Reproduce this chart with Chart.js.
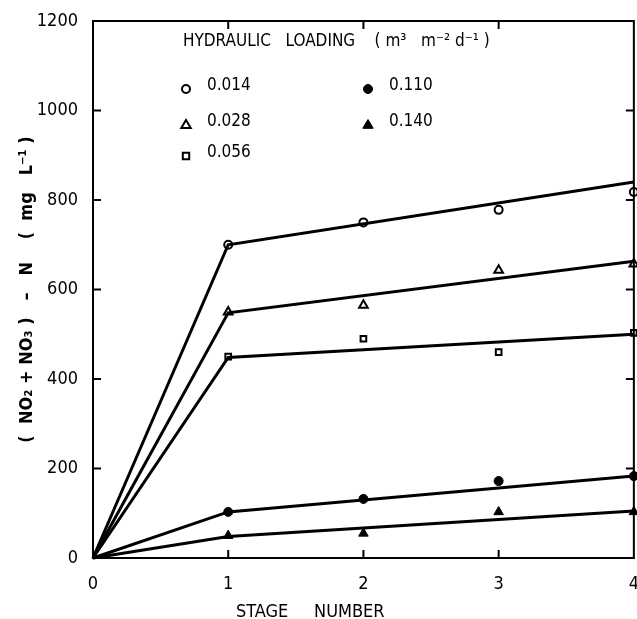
<!DOCTYPE html>
<html>
<head>
<meta charset="utf-8">
<script src="https://cdn.jsdelivr.net/npm/chart.js"></script>
<style>
    html, body { margin: 0; padding: 0; background: #fff; overflow: hidden; }
    #wrap { width: 647px; height: 619px; }
</style>
</head>
<body>
<div id="wrap"><canvas id="nitrateChart"></canvas></div>
<script>
// stage numbers where samples were taken
const stages = [1, 2, 3, 4];
const loadings = ['0.014', '0.028', '0.056', '0.110', '0.140'];

// measured (NO2 + NO3) - N, mg/L
const q014 = [700, 750, 778, 818];
const q028 = [550, 565, 643, 657];
const q056 = [450, 490, 460, 503];
const q110 = [103, 132, 172, 183];
const q140 = [50, 55, 103, 103];

// fitted lines: origin, stage 1, stage 4
const fitStages = [0, 1, 4];
const fit014 = [0, 700, 840];
const fit028 = [0, 548, 663];
const fit056 = [0, 448, 500];
const fit110 = [0, 103, 183];
const fit140 = [0, 48, 105];

const xTicks = [0, 1, 2, 3, 4];
const yTicks = [0, 200, 400, 600, 800, 1000, 1200];

const FONT = '"DejaVu Sans Condensed", "Liberation Sans", sans-serif';

const markers = [
    { style: 'circle', radius: 4, fill: '#fff', bw: 2 },
    { style: 'triangle', radius: 5, fill: '#fff', bw: 2 },
    { style: 'rect', radius: 4, fill: '#fff', bw: 2 },
    { style: 'circle', radius: 4.5, fill: '#000', bw: 1 },
    { style: 'triangle', radius: 5.5, fill: '#000', bw: 1 },
];

function toPoints(xs, ys) {
    return xs.map((x, i) => ({ x: x, y: ys[i] }));
}

function fitSet(ys) {
    return {
        type: 'line',
        data: toPoints(fitStages, ys),
        borderColor: '#000',
        borderWidth: 3,
        pointRadius: 0,
        fill: false,
        tension: 0,
        clip: false,
    };
}

function pointSet(ys, i) {
    return {
        type: 'scatter',
        label: loadings[i],
        data: toPoints(stages, ys),
        pointStyle: markers[i].style,
        pointRadius: markers[i].radius,
        pointBackgroundColor: markers[i].fill,
        pointBorderColor: '#000',
        pointBorderWidth: markers[i].bw,
        showLine: false,
        clip: false,
    };
}

function drawMarker(ctx, m, x, y) {
    ctx.save();
    ctx.fillStyle = m.fill;
    ctx.strokeStyle = '#000';
    ctx.lineWidth = m.bw;
    ctx.beginPath();
    const r = m.radius;
    if (m.style === 'circle') {
        ctx.arc(x, y, r, 0, Math.PI * 2);
    } else if (m.style === 'triangle') {
        ctx.moveTo(x, y - r);
        ctx.lineTo(x + r * 0.95, y + r * 0.6);
        ctx.lineTo(x - r * 0.95, y + r * 0.6);
        ctx.closePath();
    } else {
        ctx.rect(x - r * 0.8, y - r * 0.8, r * 1.6, r * 1.6);
    }
    ctx.fill();
    ctx.stroke();
    ctx.restore();
}

const framePlugin = {
    id: 'frame',
    afterDraw(chart) {
        const ctx = chart.ctx;
        const a = chart.chartArea;
        const xs = chart.scales.x;
        const ys = chart.scales.y;
        ctx.save();
        ctx.strokeStyle = '#000';
        ctx.lineWidth = 2;
        ctx.strokeRect(a.left, a.top, a.right - a.left, a.bottom - a.top);

        // inward ticks on all four sides
        ctx.beginPath();
        xTicks.slice(1, -1).forEach((v) => {
            const px = xs.getPixelForValue(v);
            ctx.moveTo(px, a.bottom);
            ctx.lineTo(px, a.bottom - 8);
            ctx.moveTo(px, a.top);
            ctx.lineTo(px, a.top + 8);
        });
        yTicks.slice(1, -1).forEach((v) => {
            const py = ys.getPixelForValue(v);
            ctx.moveTo(a.left, py);
            ctx.lineTo(a.left + 8, py);
            ctx.moveTo(a.right, py);
            ctx.lineTo(a.right - 8, py);
        });
        ctx.stroke();

        // axis titles
        ctx.fillStyle = '#000';
        ctx.font = '18px ' + FONT;
        ctx.textAlign = 'left';
        ctx.textBaseline = 'middle';
        ctx.fillText('STAGE     NUMBER', 236, 612);

        ctx.save();
        ctx.translate(27, (a.top + a.bottom) / 2);
        ctx.rotate(-Math.PI / 2);
        ctx.textAlign = 'center';
        ctx.font = 'bold 18px ' + FONT;
        ctx.fillText('(  NO\u2082 + NO\u2083 )   \u2013   N    (  mg   L\u207B\u00B9 )', 0, 0);
        ctx.restore();

        // legend
        ctx.font = '17px ' + FONT;
        ctx.textAlign = 'left';
        ctx.fillText('HYDRAULIC   LOADING    ( m\u00B3   m\u207B\u00B2 d\u207B\u00B9 )', 183, 42);
        const cols = [186, 368];
        const rows = [86, 122, 153];
        loadings.forEach((lab, i) => {
            const col = i < 3 ? 0 : 1;
            const row = i < 3 ? i : i - 3;
            drawMarker(ctx, markers[i], cols[col], rows[row] + 3);
            ctx.fillText(lab, cols[col] + 21, rows[row]);
        });
        ctx.restore();
    },
};

const ctx = document.getElementById('nitrateChart');
const config = {
    type: 'scatter',
    data: {
        datasets: [
            fitSet(fit014),
            fitSet(fit028),
            fitSet(fit056),
            fitSet(fit110),
            fitSet(fit140),
            pointSet(q014, 0),
            pointSet(q028, 1),
            pointSet(q056, 2),
            pointSet(q110, 3),
            pointSet(q140, 4),
        ],
    },
    options: {
        responsive: true,
        maintainAspectRatio: false,
        animation: false,
        layout: {
            padding: { top: 21, right: 0, left: 0, bottom: 0 },
        },
        plugins: {
            legend: { display: false },
            tooltip: { enabled: false },
        },
        scales: {
            x: {
                type: 'linear',
                min: 0,
                max: 4,
                grid: { display: false },
                border: { display: false },
                afterBuildTicks: (s) => {
                    s.ticks = xTicks.map((v) => ({ value: v }));
                },
                afterFit: (s) => {
                    s.height = 61;
                },
                ticks: {
                    color: '#000',
                    padding: 8,
                    maxRotation: 0,
                    font: { family: FONT, size: 18 },
                    callback: (v) => String(v),
                },
            },
            y: {
                min: 0,
                max: 1200,
                grid: { display: false },
                border: { display: false },
                afterBuildTicks: (s) => {
                    s.ticks = yTicks.map((v) => ({ value: v }));
                },
                afterFit: (s) => {
                    s.width = 93;
                },
                ticks: {
                    color: '#000',
                    padding: 7,
                    font: { family: FONT, size: 18 },
                    callback: (v) => String(v),
                },
            },
        },
    },
    plugins: [framePlugin],
};

let nitrateChart = new Chart(ctx, config);
</script>
</body>
</html>
